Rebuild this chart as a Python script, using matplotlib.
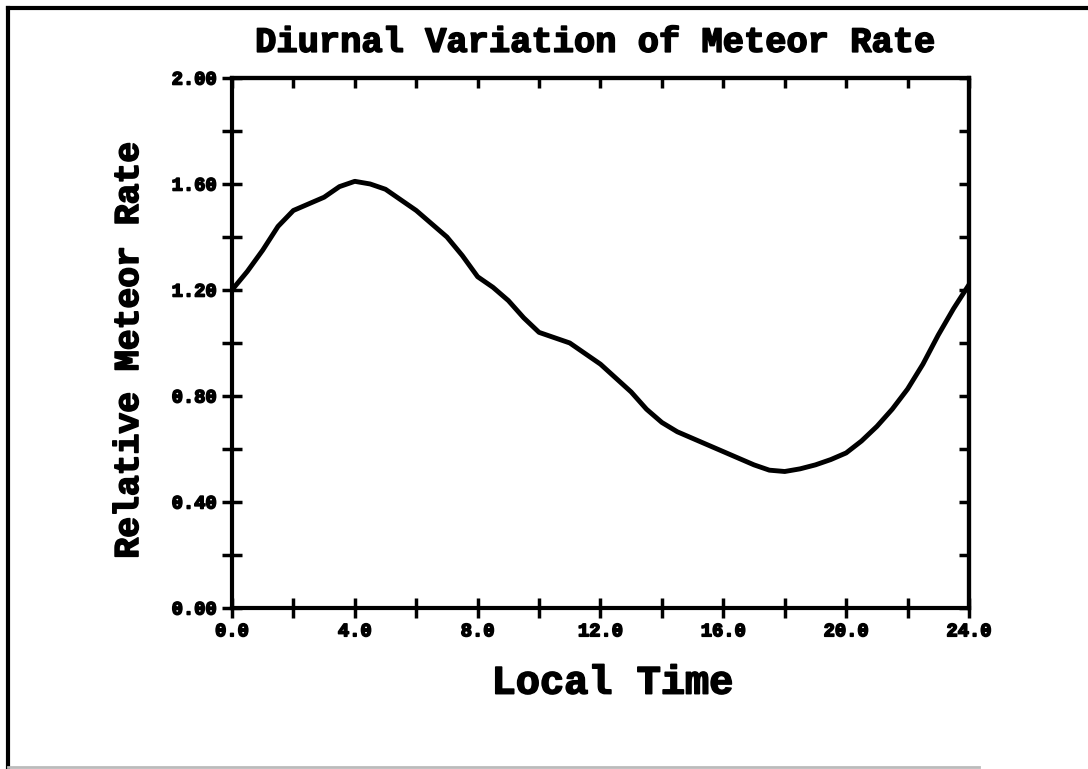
import numpy as np
import matplotlib
matplotlib.use('Agg')
import matplotlib.pyplot as plt
import matplotlib.patheffects as pe
from matplotlib.lines import Line2D
from matplotlib.ticker import MultipleLocator, FormatStrFormatter

# values
local_time = [0, 0.5, 1, 1.5, 2, 2.5, 3, 3.5, 4, 4.5, 5, 6, 7, 7.5, 8, 8.5,
              9, 9.5, 10, 10.5, 11, 12, 13, 13.5, 14, 14.5, 15, 16, 17, 17.5,
              18, 18.5, 19, 19.5, 20, 20.5, 21, 21.5, 22, 22.5, 23, 23.5, 24]
meteor_rate = [1.20, 1.27, 1.35, 1.44, 1.50, 1.525, 1.55, 1.59, 1.61, 1.60,
               1.58, 1.50, 1.40, 1.33, 1.25, 1.21, 1.16, 1.095, 1.04, 1.02,
               1.00, 0.92, 0.815, 0.75, 0.70, 0.665, 0.64, 0.59, 0.54, 0.52,
               0.515, 0.525, 0.54, 0.56, 0.585, 0.63, 0.685, 0.75, 0.826,
               0.92, 1.03, 1.13, 1.22]

title = 'Diurnal Variation of Meteor Rate'
xlabel = 'Local Time'
ylabel = 'Relative Meteor Rate'

font = 'Liberation Mono'
heavy = [pe.withStroke(linewidth=1.2, foreground='black')]

fig = plt.figure(figsize=(10.88, 7.69), dpi=100)
ax = fig.add_axes([0.2132, 0.2094, 0.6774, 0.6892])

ax.plot(local_time, meteor_rate, color='black', lw=3.5,
        solid_capstyle='round', solid_joinstyle='round')

ax.set_xlim(0, 24)
ax.set_ylim(0, 2.0)

ax.xaxis.set_major_locator(MultipleLocator(4))
ax.xaxis.set_minor_locator(MultipleLocator(2))
ax.yaxis.set_major_locator(MultipleLocator(0.4))
ax.yaxis.set_minor_locator(MultipleLocator(0.2))
ax.xaxis.set_major_formatter(FormatStrFormatter('%.1f'))
ax.yaxis.set_major_formatter(FormatStrFormatter('%.2f'))

for s in ax.spines.values():
    s.set_linewidth(3)

ax.tick_params(which='both', direction='inout', length=14, width=2.5,
               top=False, right=False)
ax.tick_params(which='major', labelsize=13.5, pad=4)
for lab in ax.get_xticklabels() + ax.get_yticklabels():
    lab.set_fontfamily(font)
    lab.set_fontweight('bold')
    lab.set_path_effects(heavy)

# top / right ticks point inward only
sx = ax.secondary_xaxis('top')
sy = ax.secondary_yaxis('right')
sx.xaxis.set_major_locator(MultipleLocator(2))
sy.yaxis.set_major_locator(MultipleLocator(0.2))
sx.tick_params(direction='in', length=7, width=2.5, labeltop=False)
sy.tick_params(direction='in', length=7, width=2.5, labelright=False)
for sec in (sx, sy):
    for s in sec.spines.values():
        s.set_linewidth(3)

ax.set_xlabel(xlabel, fontsize=29, fontweight='bold', family=font,
              path_effects=heavy)
ax.set_ylabel(ylabel, fontsize=25, fontweight='bold', family=font,
              path_effects=heavy)
ax.xaxis.set_label_coords(0.516, -0.105)
ax.yaxis.set_label_coords(-0.118, 0.487)
fig.text(0.547, 0.945, title, fontsize=25.5, fontweight='bold', family=font,
         ha='center', va='center', path_effects=heavy)

# outer frame of the scanned page
fig.add_artist(Line2D([0.0075, 1.0], [0.99, 0.99], color='black', lw=3))
fig.add_artist(Line2D([0.0075, 0.0075], [0.0, 0.99], color='black', lw=3))
fig.add_artist(Line2D([0.0075, 0.9], [0.003, 0.003], color='#bbbbbb', lw=2))

fig.savefig('out.png', dpi=100)
